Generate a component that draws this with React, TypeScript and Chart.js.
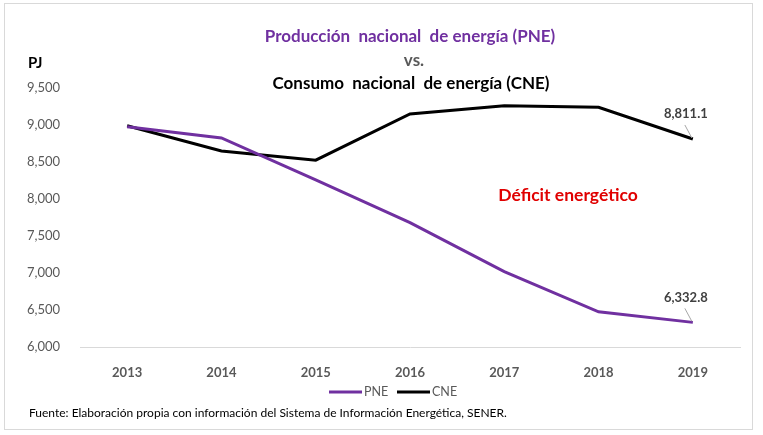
import React, { useEffect, useRef } from "react";
import { Chart, registerables } from "chart.js";

Chart.register(...registerables);

const years = ["2013", "2014", "2015", "2016", "2017", "2018", "2019"];
const pneValues = [8975, 8825, 8260, 7680, 7020, 6475, 6332.8];
const cneValues = [8990, 8650, 8525, 9150, 9260, 9240, 8811.1];
const yMin = 6000;
const yMax = 9500;
const yStep = 500;

const titleLine1 = "Producción  nacional  de energía (PNE)";
const titleLine2 = "vs.";
const titleLine3 = "Consumo  nacional  de energía (CNE)";
const unitLabel = "PJ";
const deficitLabel = "Déficit energético";
const sourceNote = "Fuente: Elaboración propia con información del Sistema de Información Energética, SENER.";

const PURPLE = "#7030A0";
const FONT = "Lato, 'Open Sans', sans-serif";

const fmt = (v: number, dec = 0) =>
  v.toLocaleString("en-US", { minimumFractionDigits: dec, maximumFractionDigits: dec });

const decorPlugin = {
  id: "decor",
  afterDraw(chart: any) {
    const ctx = chart.ctx as CanvasRenderingContext2D;
    ctx.save();
    // frame
    ctx.strokeStyle = "#D9D9D9";
    ctx.lineWidth = 1;
    ctx.strokeRect(4.5, 3.5, 748, 426);

    // titles
    ctx.textAlign = "center";
    ctx.textBaseline = "middle";
    ctx.font = `bold 17px ${FONT}`;
    ctx.fillStyle = PURPLE;
    ctx.fillText(titleLine1, 410, 37);
    ctx.fillStyle = "#595959";
    ctx.fillText(titleLine2, 414, 61);
    ctx.fillStyle = "#000000";
    ctx.fillText(titleLine3, 411, 84);

    // unit
    ctx.textAlign = "left";
    ctx.font = `bold 15px ${FONT}`;
    ctx.fillStyle = "#000000";
    ctx.fillText(unitLabel, 28, 63);

    // deficit
    ctx.textAlign = "center";
    ctx.font = `bold 17.5px ${FONT}`;
    ctx.fillStyle = "#E00000";
    ctx.fillText(deficitLabel, 568, 195);

    // data labels on last points
    const lastIdx = years.length - 1;
    [0, 1].forEach((di) => {
      const meta = chart.getDatasetMeta(di);
      const pt = meta.data[lastIdx];
      const val = chart.data.datasets[di].data[lastIdx] as number;
      ctx.strokeStyle = "#A6A6A6";
      ctx.lineWidth = 1;
      ctx.beginPath();
      ctx.moveTo(pt.x - 8, pt.y - 14);
      ctx.lineTo(pt.x - 1, pt.y - 1);
      ctx.stroke();
      ctx.font = `bold 13px ${FONT}`;
      ctx.fillStyle = "#404040";
      ctx.textAlign = "center";
      ctx.fillText(fmt(val, 1), pt.x - 7, pt.y - 25);
    });

    // legend
    const ly = 392;
    const items = [
      { label: "PNE", color: PURPLE, x: 329 },
      { label: "CNE", color: "#000000", x: 397 },
    ];
    ctx.font = `12.5px ${FONT}`;
    ctx.textAlign = "left";
    items.forEach((it) => {
      ctx.strokeStyle = it.color;
      ctx.lineWidth = 3;
      ctx.beginPath();
      ctx.moveTo(it.x, ly);
      ctx.lineTo(it.x + 33, ly);
      ctx.stroke();
      ctx.fillStyle = "#595959";
      ctx.fillText(it.label, it.x + 35, ly);
    });

    // source
    ctx.font = `12px ${FONT}`;
    ctx.fillStyle = "#000000";
    ctx.textAlign = "left";
    ctx.fillText(sourceNote, 29, 413);
    ctx.restore();
  },
};

export default function App() {
  const ref = useRef<HTMLCanvasElement | null>(null);
  useEffect(() => {
    if (!ref.current) return;
    const chart = new Chart(ref.current, {
      type: "line",
      data: {
        labels: years,
        datasets: [
          {
            label: "PNE",
            data: pneValues,
            borderColor: PURPLE,
            backgroundColor: PURPLE,
            borderWidth: 3,
            pointRadius: 0,
            tension: 0,
          },
          {
            label: "CNE",
            data: cneValues,
            borderColor: "#000000",
            backgroundColor: "#000000",
            borderWidth: 3,
            pointRadius: 0,
            tension: 0,
          },
        ],
      },
      options: {
        responsive: false,
        animation: false,
        layout: { padding: { left: 8, right: 23, top: 88, bottom: 58 } },
        plugins: { legend: { display: false }, title: { display: false }, tooltip: { enabled: false } },
        scales: {
          x: {
            offset: true,
            grid: { display: false },
            border: { display: true, color: "#D9D9D9", width: 1 },
            ticks: { color: "#595959", font: { family: FONT, size: 13, weight: "bold" }, padding: 10 },
            afterFit: (s: any) => { s.height = 30; },
          },
          y: {
            min: yMin,
            max: yMax,
            grid: { display: false },
            border: { display: false },
            ticks: {
              stepSize: yStep,
              color: "#595959",
              font: { family: FONT, size: 13 },
              padding: 12,
              callback: (v: any) => fmt(Number(v)),
            },
            afterFit: (s: any) => { s.width = 72; },
          },
        },
      },
      plugins: [decorPlugin],
    });
    return () => chart.destroy();
  }, []);
  return (
    <div style={{ position: "absolute", left: 0, top: 0, width: 763, height: 435, background: "#fff" }}>
      <canvas ref={ref} width={763} height={435} style={{ display: "block" }} />
    </div>
  );
}
